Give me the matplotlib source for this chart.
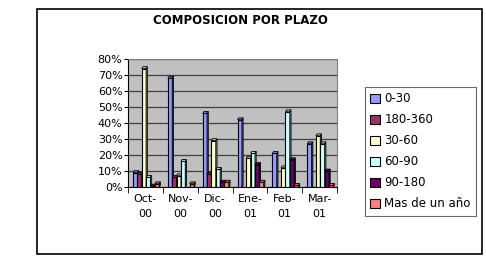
import matplotlib
matplotlib.use('Agg')
import matplotlib.pyplot as plt
import matplotlib.colors as mcolors
import numpy as np
from matplotlib.patches import Rectangle, Polygon

months = ['Oct-\n00', 'Nov-\n00', 'Dic-\n00', 'Ene-\n01', 'Feb-\n01', 'Mar-\n01']
series = ['0-30', '180-360', '30-60', '60-90', '90-180', 'Mas de un año']
colors = ['#9999FF', '#993366', '#FFFFCC', '#CCFFFF', '#660066', '#FF8080']

v_0_30 = [9, 68, 46, 42, 21, 27]
v_180_360 = [8, 6, 8, 0, 0, 0]
v_30_60 = [74, 7, 29, 18, 12, 32]
v_60_90 = [6, 16, 11, 21, 47, 27]
v_90_180 = [0.5, 0, 3, 14, 17, 10]
v_mas = [2, 2, 3, 3, 1, 1]
values = [v_0_30, v_180_360, v_30_60, v_60_90, v_90_180, v_mas]

def shade(c, f):
    r, g, b = mcolors.to_rgb(c)
    return (r*f, g*f, b*f)

fig = plt.figure(figsize=(4.86, 2.74), dpi=100)
fig.patches.append(Rectangle((37/486, 1-254/274), 445/486, 245/274, transform=fig.transFigure,
                             fill=False, edgecolor='black', linewidth=1.2))

ax = fig.add_axes([128/486, 1-187/274, 209/486, 128/274])
ax.set_facecolor('#C0C0C0')

x = np.arange(len(months))
w = 0.125
dx = 0.035   # fake 3D depth
dy = 1.2
for i, (vals, c) in enumerate(zip(values, colors)):
    left = x - 3*w + i*w + 0.02
    ax.bar(left, vals, w, align='edge', color=c, edgecolor='black', linewidth=0.8,
           label=series[i], zorder=3 + i)
    for l, v in zip(left, vals):
        if v <= 0:
            continue
        side = Polygon([(l + w, 0), (l + w + dx, dy), (l + w + dx, v + dy), (l + w, v)],
                       closed=True, facecolor=shade(c, 0.7), edgecolor='black',
                       linewidth=0.6, zorder=3 + i)
        top = Polygon([(l, v), (l + dx, v + dy), (l + w + dx, v + dy), (l + w, v)],
                      closed=True, facecolor=shade(c, 0.85), edgecolor='black',
                      linewidth=0.6, zorder=3 + i)
        ax.add_patch(side)
        ax.add_patch(top)

ax.set_xlim(-0.5, len(months) - 0.5)
ax.set_ylim(0, 80)
ax.set_yticks(range(0, 81, 10))
ax.set_yticklabels(['%d%%' % t for t in range(0, 81, 10)], fontsize=8)
ax.yaxis.grid(True, color='#404040', linewidth=0.9, zorder=0)
ax.set_xticks(x)
ax.set_xticklabels(months, fontsize=8, linespacing=1.6)
ax.set_xticks(np.arange(-0.5, len(months), 1), minor=True)
ax.tick_params(axis='x', which='major', length=0, pad=5)
ax.tick_params(axis='x', which='minor', length=4)
ax.tick_params(axis='y', length=3, pad=1)
for s in ['top', 'right']:
    ax.spines[s].set_color('#808080')
ax.spines['left'].set_color('black')
ax.spines['bottom'].set_color('black')

fig.text(240/486, 1-20/274, 'COMPOSICION POR PLAZO', ha='center', va='center',
         fontsize=8.5, fontweight='bold')

leg = fig.legend(loc='upper left', bbox_to_anchor=(365/486, 1-87/274), fontsize=8.5,
                 frameon=True, fancybox=False, edgecolor='#404040', handlelength=0.8,
                 handleheight=0.8, handletextpad=0.4, labelspacing=0.68,
                 borderpad=0.45, borderaxespad=0)
leg.get_frame().set_linewidth(0.8)

fig.savefig('out.png', dpi=100)
